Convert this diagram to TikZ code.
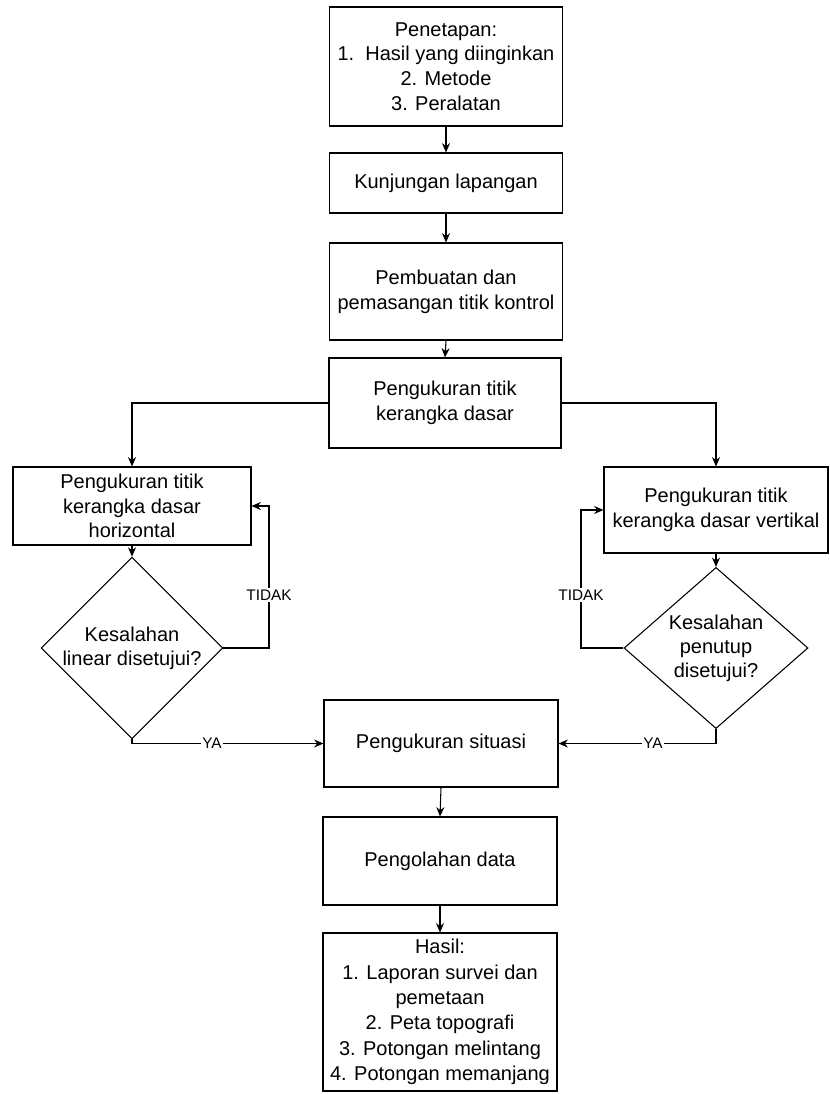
\documentclass[tikz,border=0pt]{standalone}
\usepackage{fontspec}
\setmainfont{Liberation Sans}
\usetikzlibrary{arrows.meta,shapes.geometric}
\begin{document}
\begin{tikzpicture}[x=0.75pt,y=-0.75pt,
  box/.style={draw=black,line width=0.8pt,rectangle,inner sep=0pt,align=center,font=\fontsize{15}{18.5}\selectfont},
  dec/.style={draw=black,line width=0.8pt,diamond,inner sep=0pt,align=center,font=\fontsize{15}{18}\selectfont},
  conn/.style={draw=black,line width=0.8pt,-{Stealth[length=7pt,width=6pt]}},
  lab/.style={fill=white,inner sep=1pt,font=\fontsize{11.5}{13}\selectfont}]
\fill[white] (0,0) rectangle (829,1094);
\useasboundingbox (0,0) rectangle (829,1094);
% central column
\node[box,minimum width={233*0.75pt},minimum height={119*0.75pt}] (b1) at (446,66.5)
  {Penetapan:\\1.\ \ Hasil yang diinginkan\\2. Metode\\3. Peralatan};
\node[box,minimum width={233*0.75pt},minimum height={60*0.75pt}] (b2) at (446,183)
  {Kunjungan lapangan};
\node[box,minimum width={233*0.75pt},minimum height={97*0.75pt}] (b3) at (446,291.5)
  {Pembuatan dan\\pemasangan titik kontrol};
\node[box,minimum width={232*0.75pt},minimum height={90*0.75pt}] (b4) at (445,403)
  {Pengukuran titik\\kerangka dasar};
% side boxes
\node[box,minimum width={238*0.75pt},minimum height={78*0.75pt}] (lb) at (132,506)
  {Pengukuran titik\\kerangka dasar\\horizontal};
\node[box,minimum width={224*0.75pt},minimum height={86*0.75pt}] (rb) at (716,510)
  {Pengukuran titik\\kerangka dasar vertikal};
% decisions
\node[dec,minimum width={180*0.75pt},minimum height={130*0.75pt}] (ld) at (132,648)
  {Kesalahan\\linear disetujui?};
\node[dec,minimum width={184*0.75pt},minimum height={130*0.75pt}] (rd) at (716,648)
  {Kesalahan\\penutup\\disetujui?};
% lower column
\node[box,minimum width={234*0.75pt},minimum height={87*0.75pt}] (sit) at (441,743.5)
  {Pengukuran situasi};
\node[box,minimum width={234*0.75pt},minimum height={88*0.75pt}] (pd) at (440,861)
  {Pengolahan data};
\node[box,minimum width={234*0.75pt},minimum height={158*0.75pt},font=\fontsize{15}{19}\selectfont] (ha) at (440,1012)
  {Hasil:\\1. Laporan survei dan\\pemetaan\\2. Peta topografi\\3. Potongan melintang\\4. Potongan memanjang};
% connectors
\draw[conn] (b1.south) -- (b2.north);
\draw[conn] (b2.south) -- (b3.north);
\draw[conn] (b3.south) -- (b4.north);
\draw[conn] (b4.west) -| (lb.north);
\draw[conn] (b4.east) -| (rb.north);
\draw[conn] (lb.south) -- (ld.north);
\draw[conn] (rb.south) -- (rd.north);
\coordinate (tl) at (269,595);
\coordinate (tr) at (581,595);
\draw[conn] (ld.east) -| (tl) |- (lb.east);
\draw[conn] (rd.west) -| (tr) |- (rb.west);
\node[lab] (tll) at (tl) {TIDAK};
\node[lab] (trl) at (tr) {TIDAK};
\coordinate (yl) at (132,743.5);
\coordinate (yr) at (716,743.5);
\draw[conn] (ld.south) -- (yl) -- (sit.west);
\draw[conn] (rd.south) -- (yr) -- (sit.east);
\node[lab] (yal) at (212,743.5) {YA};
\node[lab] (yar) at (653,743.5) {YA};
\draw[conn] (sit.south) -- (pd.north);
\draw[conn] (pd.south) -- (ha.north);
\end{tikzpicture}
\end{document}
